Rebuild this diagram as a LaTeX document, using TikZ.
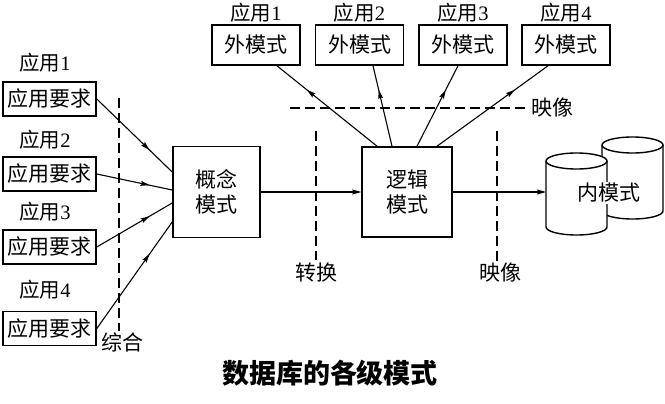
\documentclass[tikz,border=0pt]{standalone}
\usepackage{fontspec}
\setmainfont{Liberation Serif}
\newfontfamily\cjk{Noto Sans CJK SC}
\usetikzlibrary{arrows.meta,decorations.markings,calc}

\tikzset{
  txt/.style={font=\cjk\fontsize{21}{25}\selectfont, inner sep=0pt},
  reqbox/.style={txt, draw, line width=1.6pt, minimum width=93pt, minimum height=34pt},
  extbox/.style={txt, draw, line width=1.6pt, minimum width=88pt, minimum height=40pt},
  bigbox/.style={txt, draw, line width=1.6pt, align=center},
  lbl/.style={font=\fontsize{20.5}{24}\selectfont, inner sep=0pt},
  conn/.style={line width=1.1pt},
  midarrow/.style={postaction={decorate, decoration={markings,
      mark=at position 0.7 with {\arrow{Stealth[length=9pt,width=5pt,inset=1.5pt]}}}}},
  endarrow/.style={-{Stealth[length=9pt,width=5pt,inset=1.5pt]}},
  dashline/.style={line width=1.1pt, dash pattern=on 10pt off 5pt},
  cyl/.style={line width=1.4pt},
}

\begin{document}
\begin{tikzpicture}[x=1pt,y=1pt]
\useasboundingbox (0,0) rectangle (665,-404);

% application requirements on the left
\node[reqbox] (r1) at (49.5,-99)   {应用要求};
\node[reqbox] (r2) at (49.5,-174)  {应用要求};
\node[reqbox] (r3) at (49.5,-247)  {应用要求};
\node[reqbox] (r4) at (49.5,-328.5){应用要求};
\node[lbl] (l1) at (45,-63)  {{\cjk 应用}1};
\node[lbl] (l2) at (45,-140) {{\cjk 应用}2};
\node[lbl] (l3) at (45,-212) {{\cjk 应用}3};
\node[lbl] (l4) at (45,-290) {{\cjk 应用}4};

% conceptual and logical models
\node[bigbox, minimum width=87pt, minimum height=91pt] (concept) at (216.5,-192) {概念\\模式};
\node[bigbox, minimum width=90pt, minimum height=90pt] (logic) at (407,-192) {逻辑\\模式};

% external schemas on top
\node[extbox] (e1) at (256,-45)   {外模式};
\node[extbox] (e2) at (359.5,-45) {外模式};
\node[extbox] (e3) at (463,-45)   {外模式};
\node[extbox] (e4) at (566,-45)   {外模式};
\node[lbl] (t1) at (256,-12.5)   {{\cjk 应用}1};
\node[lbl] (t2) at (359.5,-12.5) {{\cjk 应用}2};
\node[lbl] (t3) at (463,-12.5)   {{\cjk 应用}3};
\node[lbl] (t4) at (566,-12.5)   {{\cjk 应用}4};

% internal schema: two stacked cylinders
\foreach \cx/\ty/\by in {632.5/-145/-211, 576.5/-161/-227}{
  \fill[white] (\cx-30.5,\ty) -- (\cx-30.5,\by)
     arc[start angle=180,end angle=360,x radius=30.5pt,y radius=8pt]
     -- (\cx+30.5,\ty)
     arc[start angle=0,end angle=180,x radius=30.5pt,y radius=8pt] -- cycle;
  \draw[cyl] (\cx-30.5,\ty) -- (\cx-30.5,\by)
     arc[start angle=180,end angle=360,x radius=30.5pt,y radius=8pt]
     -- (\cx+30.5,\ty);
  \draw[cyl] (\cx,\ty) ellipse[x radius=30.5pt,y radius=8pt];
}
\coordinate (db) at (546,-192);
\node[txt, fill=white, inner sep=1pt] (inner) at (609,-193) {内模式};

% dashed boundaries and their labels
\coordinate (z1) at (119,-98);  \coordinate (z2) at (119,-331);
\draw[dashline] (z1) -- (z2);
\node[txt] (zh) at (122,-342) {综合};

\coordinate (h1) at (290,-108); \coordinate (h2) at (530,-108);
\draw[dashline] (h1) -- (h2);
\node[txt] (ys1) at (552,-108) {映像};

\coordinate (v1) at (316,-131); \coordinate (v2) at (316,-260);
\draw[dashline] (v1) -- (v2);
\node[txt] (zhh) at (316,-273) {转换};

\coordinate (w1) at (497,-131); \coordinate (w2) at (497,-262);
\draw[dashline] (w1) -- (w2);
\node[txt] (ys2) at (500,-273) {映像};

% requirements merged into the conceptual model
\draw[conn, midarrow] (r1.east) -- ([yshift=20pt]concept.west);
\draw[conn, midarrow] (r2.east) -- ([yshift=2pt]concept.west);
\draw[conn, midarrow] (r3.east) -- ([yshift=-11pt]concept.west);
\draw[conn, midarrow] (r4.east) -- ([yshift=-30pt]concept.west);

% model transformations
\draw[conn, endarrow] (concept.east) -- (logic.west);
\draw[conn, endarrow] (logic.east) -- (db);

% logical model mapped to external schemas
\draw[conn, midarrow] ([xshift=-30pt]logic.north) -- ([xshift=21pt]e1.south);
\draw[conn, midarrow] ([xshift=-15pt]logic.north) -- ([xshift=13.5pt]e2.south);
\draw[conn, midarrow] ([xshift=10pt]logic.north) -- ([xshift=-5pt]e3.south);
\draw[conn, midarrow] ([xshift=30pt]logic.north) -- ([xshift=-18pt]e4.south);

% caption
\node[font=\cjk\bfseries\fontsize{27}{31}\selectfont, inner sep=0pt] (cap) at (330,-373) {数据库的各级模式};
\end{tikzpicture}
\end{document}
